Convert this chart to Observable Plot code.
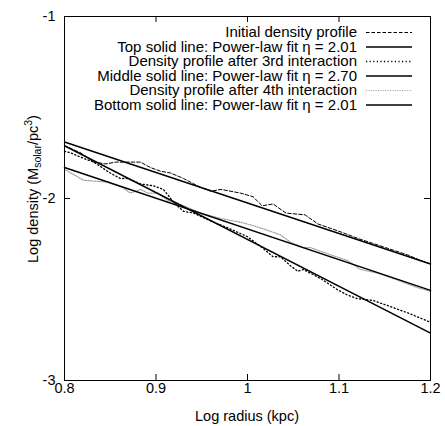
<!DOCTYPE html>
<html><head><meta charset="utf-8">
<script src="https://cdn.jsdelivr.net/npm/d3@7"></script>
<script src="https://cdn.jsdelivr.net/npm/@observablehq/plot@0.6"></script>
<style>body{margin:0;background:#fff} svg{display:block}</style>
</head><body><div id="chart"></div>
<script>
const xTicks = [0.8, 0.9, 1, 1.1, 1.2];
const yTicks = [-3, -2, -1];

const initialX = [0.800,0.818,0.832,0.845,0.856,0.869,0.883,0.894,0.905,0.916,0.930,0.949,0.960,0.971,0.992,1.006,1.016,1.028,1.042,1.063,1.077,1.100,1.121,1.151,1.175,1.189,1.200];
const initialY = [-1.71,-1.75,-1.80,-1.81,-1.80,-1.80,-1.80,-1.83,-1.85,-1.86,-1.89,-1.94,-1.96,-1.95,-1.97,-1.99,-2.04,-2.03,-2.08,-2.09,-2.14,-2.18,-2.22,-2.27,-2.31,-2.34,-2.36];

const thirdX = [0.800,0.807,0.821,0.832,0.850,0.861,0.869,0.883,0.897,0.908,0.913,0.919,0.930,0.941,0.963,0.978,1.000,1.016,1.028,1.036,1.047,1.055,1.061,1.080,1.098,1.109,1.120,1.137,1.154,1.176,1.200];
const thirdY = [-1.74,-1.75,-1.78,-1.80,-1.86,-1.89,-1.89,-1.92,-1.93,-1.95,-1.98,-2.02,-2.07,-2.08,-2.13,-2.16,-2.21,-2.27,-2.32,-2.32,-2.37,-2.40,-2.39,-2.44,-2.50,-2.53,-2.55,-2.56,-2.59,-2.63,-2.68];

const fourthX = [0.800,0.821,0.847,0.864,0.872,0.883,0.891,0.902,0.913,0.930,0.949,0.971,0.992,1.007,1.025,1.036,1.047,1.061,1.069,1.091,1.109,1.123,1.142,1.165,1.186,1.200];
const fourthY = [-1.84,-1.90,-1.91,-1.94,-1.97,-1.95,-1.97,-1.97,-2.01,-2.04,-2.08,-2.11,-2.13,-2.15,-2.18,-2.20,-2.24,-2.27,-2.27,-2.31,-2.34,-2.39,-2.41,-2.45,-2.49,-2.51];

const fitX = [0.8, 1.2];
const topFitY = [-1.69, -2.36];
const middleFitY = [-1.71, -2.74];
const bottomFitY = [-1.83, -2.505];

const legendLabels = [
  "Initial density profile",
  "Top solid line: Power-law fit \u03b7 = 2.01",
  "Density profile after 3rd interaction",
  "Middle solid line: Power-law fit \u03b7 = 2.70",
  "Density profile after 4th interaction",
  "Bottom solid line: Power-law fit \u03b7 = 2.01"
];

const toRows = (xs, ys) => xs.map((x, i) => ({x, y: ys[i]}));
const initial = toRows(initialX, initialY);
const third = toRows(thirdX, thirdY);
const fourth = toRows(fourthX, fourthY);
const topFit = toRows(fitX, topFitY);
const middleFit = toRows(fitX, middleFitY);
const bottomFit = toRows(fitX, bottomFitY);

const styles = [
  {stroke: "#000", strokeWidth: 1, strokeDasharray: "3.5,2"},
  {stroke: "#000", strokeWidth: 1.5},
  {stroke: "#000", strokeWidth: 1.3, strokeDasharray: "1.2,2.4"},
  {stroke: "#000", strokeWidth: 1.5},
  {stroke: "#999", strokeWidth: 1.2, strokeDasharray: "1,1.4"},
  {stroke: "#000", strokeWidth: 1.5}
];

const W = 445, H = 426, mT = 16, mR = 15, mB = 46, mL = 64;
const pw = W - mL - mR, ph = H - mT - mB;
const inner = xTicks.slice(1, -1), innerY = yTicks.slice(1, -1);

const chart = Plot.plot({
  width: W, height: H,
  marginTop: mT, marginRight: mR, marginBottom: mB, marginLeft: mL,
  style: {fontFamily: "'Liberation Sans', Arial, sans-serif", fontSize: "14.5px", color: "#000", background: "#fff"},
  x: {domain: [0.8, 1.2]},
  y: {domain: [-3, -1]},
  marks: [
    Plot.line(fourth, {x: "x", y: "y", ...styles[4]}),
    Plot.line(third, {x: "x", y: "y", ...styles[2]}),
    Plot.line(initial, {x: "x", y: "y", ...styles[0]}),
    Plot.line(topFit, {x: "x", y: "y", ...styles[1]}),
    Plot.line(middleFit, {x: "x", y: "y", ...styles[3]}),
    Plot.line(bottomFit, {x: "x", y: "y", ...styles[5]}),
    Plot.tickX(inner, {x: d => d, insetTop: ph - 6, stroke: "#000"}),
    Plot.tickX(inner, {x: d => d, insetBottom: ph - 6, stroke: "#000"}),
    Plot.tickY(innerY, {y: d => d, insetRight: pw - 6, stroke: "#000"}),
    Plot.tickY(innerY, {y: d => d, insetLeft: pw - 6, stroke: "#000"}),
    Plot.axisX(xTicks, {tickSize: 0, tickPadding: 2, tickFormat: d => String(d), label: null}),
    Plot.axisY(yTicks, {tickSize: 0, tickPadding: 9, tickFormat: d => String(d), label: null}),
    Plot.frame({stroke: "#000", strokeWidth: 1})
  ]
});

const svg = d3.select(chart);
const font = "'Liberation Sans', Arial, sans-serif";
// legend
const lg = svg.append("g").attr("font-family", font).attr("font-size", 15);
legendLabels.forEach((lab, i) => {
  const yb = 37 + i * 14.5;
  lg.append("text").attr("x", 357).attr("y", yb).attr("text-anchor", "end").text(lab);
  const s = styles[i];
  lg.append("line").attr("x1", 366).attr("x2", 412).attr("y1", yb - 4.5).attr("y2", yb - 4.5)
    .attr("stroke", s.stroke).attr("stroke-width", s.strokeWidth)
    .attr("stroke-dasharray", s.strokeDasharray || null);
});
// x label
svg.append("text").attr("x", mL + pw / 2).attr("y", 421).attr("text-anchor", "middle")
  .attr("font-family", font).attr("font-size", 14.5).text("Log radius (kpc)");
// y label
const yl = svg.append("text").attr("transform", "translate(38,189) rotate(-90)")
  .attr("text-anchor", "middle").attr("font-family", font).attr("font-size", 14.5);
yl.append("tspan").text("Log density (M");
yl.append("tspan").attr("font-size", 10.5).attr("baseline-shift", "-3").text("solar");
yl.append("tspan").text("/pc");
yl.append("tspan").attr("font-size", 10.5).attr("baseline-shift", "6").text("3");
yl.append("tspan").text(")");

document.getElementById("chart").appendChild(chart);
</script>
</body></html>
